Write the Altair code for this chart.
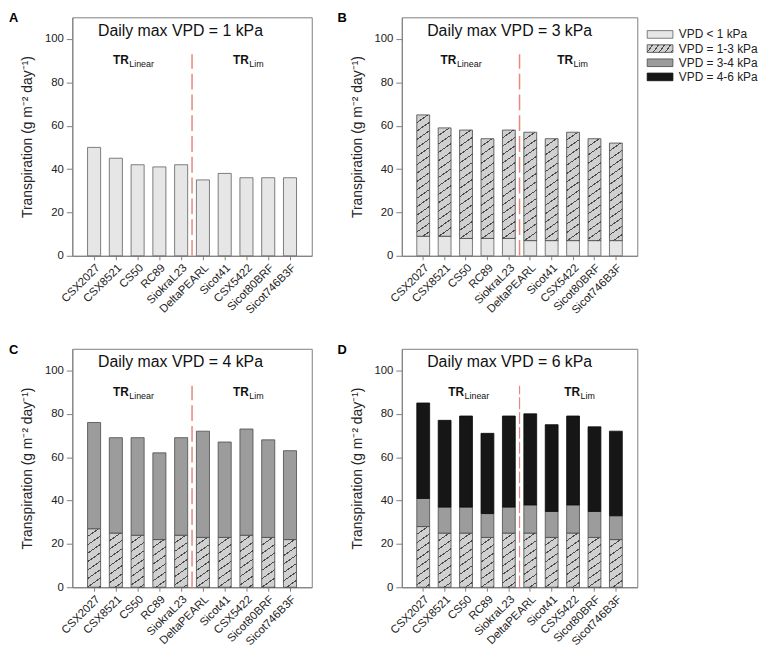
import altair as alt

# ---------------- data ----------------
genotypes = ["CSX2027", "CSX8521", "CS50", "RC89", "SiokraL23",
             "DeltaPEARL", "Sicot41", "CSX5422", "Sicot80BRF", "Sicot746B3F"]

legend_labels = ["VPD < 1 kPa", "VPD = 1-3 kPa", "VPD = 3-4 kPa", "VPD = 4-6 kPa"]

# A: daily max VPD = 1 kPa
a_lt1 = [50, 45, 42, 41, 42, 35, 38, 36, 36, 36]
# B: daily max VPD = 3 kPa
b_lt1 = [9, 9, 8, 8, 8, 7, 7, 7, 7, 7]
b_1to3 = [56, 50, 50, 46, 50, 50, 47, 50, 47, 45]
# C: daily max VPD = 4 kPa
c_1to3 = [27, 25, 24, 22, 24, 23, 23, 24, 23, 22]
c_3to4 = [49, 44, 45, 40, 45, 49, 44, 49, 45, 41]
# D: daily max VPD = 6 kPa
d_1to3 = [28, 25, 25, 23, 25, 25, 23, 25, 23, 22]
d_3to4 = [13, 12, 12, 11, 12, 13, 12, 13, 12, 11]
d_4to6 = [44, 40, 42, 37, 42, 42, 40, 41, 39, 39]

# ---------------- styles ----------------
Y_MAX = 110
W_LEFT, W_RIGHT, H = 242, 238, 241
PX_PER_UNIT = H / Y_MAX
PAD_OUTER = 0.5
BAR_FRAC = 0.6
FONT = "Liberation Sans"
AX = "#808080"
TXT = "#222222"

FILL = {"lt1": "#e6e6e6", "3to4": "#9c9c9c", "4to6": "#161616"}
STROKE = {"lt1": "#5e5e5e", "1to3": "#444444", "3to4": "#4a4a4a", "4to6": "#0a0a0a"}
HATCH_BASE = "#d0d0d0"
HATCH_LINE = "#4a4a4a"


def hatch_fill(w, h, slope=0.7, spacing=8.5, thick=1.0):
    """Linear gradient with sharp stops that draws '/' hatching in a w x h box.
    slope: rise per px of run of the hatch lines; spacing: vertical px between lines."""
    n = (slope * w + h) / spacing
    k = (slope * w + h) / (slope * slope * w * w + h * h)
    frac = thick * (1 + slope * slope) ** 0.5 / spacing
    stops = []
    j = 0
    while j / n < 1:
        t0 = j / n
        t1 = min((j + 1 - frac) / n, 1.0)
        t2 = min((j + 1) / n, 1.0)
        stops += [
            {"offset": round(t0, 5), "color": HATCH_BASE},
            {"offset": round(t1, 5), "color": HATCH_BASE},
            {"offset": round(t1, 5), "color": HATCH_LINE},
            {"offset": round(t2, 5), "color": HATCH_LINE},
        ]
        j += 1
    return {"gradient": "linear", "x1": 0, "y1": 0,
            "x2": round(k * slope * w, 6), "y2": round(k * h, 6), "stops": stops}


def seg_rows(layers, width):
    step = width / (len(genotypes) + 2 * PAD_OUTER)
    bar_w = BAR_FRAC * step
    rows = []
    for i, g in enumerate(genotypes):
        base = 0
        for key, vals in layers:
            top = base + vals[i]
            if key == "1to3":
                fill = hatch_fill(bar_w, (top - base) * PX_PER_UNIT)
            else:
                fill = FILL[key]
            rows.append({"g": g, "y0": base, "y1": top, "fill": fill,
                         "stroke": STROKE[key]})
            base = top
    return rows


xscale = alt.Scale(domain=genotypes, paddingInner=0, paddingOuter=PAD_OUTER)
xenc = alt.X("g:N", sort=genotypes, scale=xscale,
             axis=alt.Axis(title=None, labelAngle=-45, labelFontSize=11.5,
                           labelColor=TXT, tickSize=4, tickColor=AX,
                           domainColor=AX, labelPadding=2, labelOverlap=False))
yaxis = alt.Axis(values=[0, 20, 40, 60, 80, 100],
                 title="Transpiration (g m\u207b\u00b2 day\u207b\u00b9)",
                 titleFontSize=14, titleFontWeight="normal", titleColor=TXT,
                 labelFontSize=11.5, labelColor=TXT, tickSize=6, tickColor=AX,
                 domainColor=AX, grid=False, labelPadding=3, titlePadding=10)
yenc = alt.Y("y0:Q", scale=alt.Scale(domain=[0, Y_MAX]), axis=yaxis)

DIVIDER_TOP = 93
DIVIDER_COLOR = "#e8877a"
TITLE_Y = 101.5
TR_Y = 88.3

# ---------------- legend (drawn to the right of panel B) ----------------
legend_keys = ["lt1", "1to3", "3to4", "4to6"]
SW_W, SW_H = 26, 7.7
LEG_GAP = 10          # px between panel B frame and the swatches
ROW_U = 14.3 / PX_PER_UNIT        # row spacing in y units
LEG_Y0 = Y_MAX - 17.3 / PX_PER_UNIT  # centre of first row in y units
HALF_U = SW_H / 2 / PX_PER_UNIT
legend_rows = []
for i, (lab, key) in enumerate(zip(legend_labels, legend_keys)):
    fill = hatch_fill(SW_W, SW_H, slope=1.4, spacing=8.5) if key == "1to3" else FILL[key]
    legend_rows.append({"label": lab, "row": i, "fill": fill, "stroke": STROKE[key]})


def legend_layers(width):
    src = alt.Chart(alt.Data(values=legend_rows))
    sw = src.transform_calculate(
        y0=f"{LEG_Y0:.4f} - datum.row * {ROW_U:.4f} + {HALF_U:.4f}",
        y1=f"{LEG_Y0:.4f} - datum.row * {ROW_U:.4f} - {HALF_U:.4f}",
    ).mark_rect(strokeWidth=0.8).encode(
        y=yenc, y2="y1:Q",
        x=alt.value(width + LEG_GAP), x2=alt.value(width + LEG_GAP + SW_W),
        fill=alt.Fill("fill:N", scale=None), stroke=alt.Stroke("stroke:N", scale=None))
    tx = src.transform_calculate(
        y0=f"{LEG_Y0:.4f} - datum.row * {ROW_U:.4f}"
    ).mark_text(align="left", baseline="middle", fontSize=12, color=TXT).encode(
        y=yenc, x=alt.value(width + LEG_GAP + SW_W + 6), text="label:N")
    return [sw, tx]


def panel(rows, width, letter, letter_dx, title, lin_dx, lim_dx, line_w, dash, with_legend=False):
    step = width / (len(genotypes) + 2 * PAD_OUTER)
    bars = alt.Chart(alt.Data(values=rows)).mark_bar(
        width=alt.RelativeBandSize(BAR_FRAC), strokeWidth=0.8
    ).encode(x=xenc, y=yenc, y2="y1:Q",
             fill=alt.Fill("fill:N", scale=None),
             stroke=alt.Stroke("stroke:N", scale=None))

    rule = alt.Chart(alt.Data(values=[{"g": "DeltaPEARL", "y0": 0, "y1": DIVIDER_TOP}])).mark_rule(
        color=DIVIDER_COLOR, strokeWidth=line_w, strokeDash=dash
    ).encode(x=alt.X("g:N", sort=genotypes, bandPosition=0, scale=xscale),
             y=yenc, y2="y1:Q")

    ttl = alt.Chart(alt.Data(values=[{"g": genotypes[0], "y0": TITLE_Y, "t": title}])).mark_text(
        align="left", baseline="alphabetic", fontSize=16, dx=4, color="#111"
    ).encode(x=xenc, y=yenc, text="t:N")

    # panel letter, placed left of the plot's top-left corner
    let = alt.Chart(alt.Data(values=[{"g": genotypes[0], "y0": Y_MAX, "t": letter}])).mark_text(
        align="left", baseline="alphabetic", fontSize=13, fontWeight="bold",
        dx=letter_dx - step, dy=5, color="#000"
    ).encode(x=xenc, y=yenc, text="t:N")

    tr_rows = [{"g": "CS50", "y0": TR_Y, "t": "TR", "s": "Linear", "dx": lin_dx},
               {"g": "CSX5422", "y0": TR_Y, "t": "TR", "s": "Lim", "dx": lim_dx}]
    tr_main = []
    tr_sub = []
    for r in tr_rows:
        d = alt.Data(values=[r])
        tr_main.append(alt.Chart(d).mark_text(
            align="right", baseline="alphabetic", fontSize=12, fontWeight="bold",
            dx=r["dx"], color="#111").encode(x=xenc, y=yenc, text="t:N"))
        tr_sub.append(alt.Chart(d).mark_text(
            align="left", baseline="alphabetic", fontSize=9, dx=r["dx"] + 0.5, dy=3,
            color="#111").encode(x=xenc, y=yenc, text="s:N"))

    layers = [bars, rule, ttl, let, *tr_main, *tr_sub]
    if with_legend:
        layers += legend_layers(width)
    return alt.layer(*layers).properties(width=width, height=H)


rows_a = seg_rows([("lt1", a_lt1)], W_LEFT)
rows_b = seg_rows([("lt1", b_lt1), ("1to3", b_1to3)], W_RIGHT)
rows_c = seg_rows([("1to3", c_1to3), ("3to4", c_3to4)], W_LEFT)
rows_d = seg_rows([("1to3", d_1to3), ("3to4", d_3to4), ("4to6", d_4to6)], W_RIGHT)

pa = panel(rows_a, W_LEFT, "A", -64, "Daily max VPD = 1 kPa", -9, 2.3, 1.5, [16, 5])
pb = panel(rows_b, W_RIGHT, "B", -65, "Daily max VPD = 3 kPa", -9.7, 0, 1.5, [16, 5],
           with_legend=True)
pc = panel(rows_c, W_LEFT, "C", -64, "Daily max VPD = 4 kPa", -9, 2.3, 1.5, [16, 5])
pd = panel(rows_d, W_RIGHT, "D", -65, "Daily max VPD = 6 kPa", -2, 7, 1.2, [12, 3])

top = alt.hconcat(pa, pb, spacing=24)
bottom = alt.hconcat(pc, pd, spacing=24)

chart = alt.vconcat(top, bottom, spacing=26).properties(
    padding={"left": 0, "top": 0, "right": 0, "bottom": 0}
).configure(font=FONT).configure_view(stroke=AX, strokeWidth=1)

chart.save("out.html", embed_options={"renderer": "svg", "actions": False})
